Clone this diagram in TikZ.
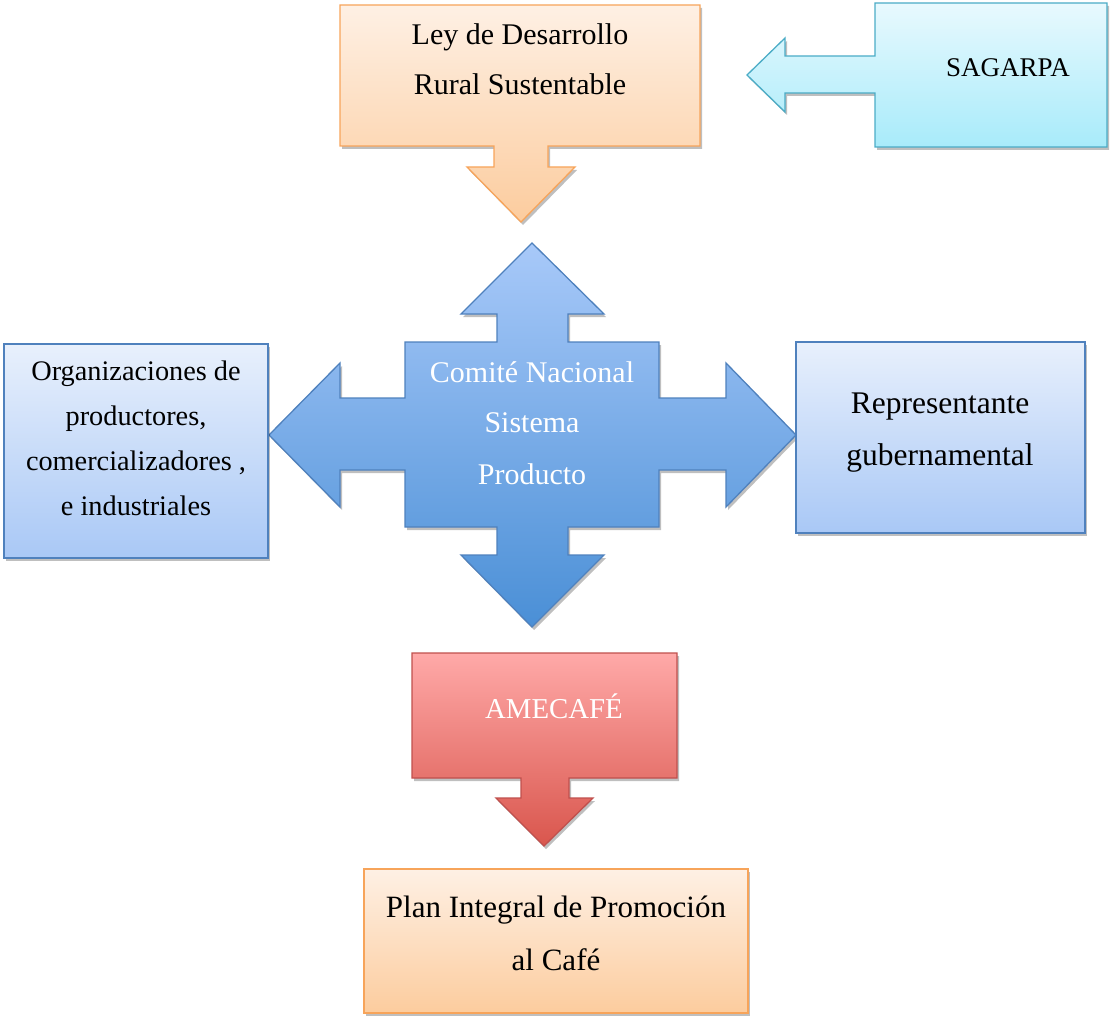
\documentclass[tikz,border=0pt]{standalone}
\usepackage{fontspec}
\setmainfont{Liberation Serif}
\usetikzlibrary{shadows}
\definecolor{orBorder}{HTML}{F7A45A}
\definecolor{orTop}{HTML}{FEF0E4}
\definecolor{orBot}{HTML}{FCCC9E}
\definecolor{aqBorder}{HTML}{4BACC6}
\definecolor{aqTop}{HTML}{E8F9FE}
\definecolor{aqBot}{HTML}{A8EBFA}
\definecolor{blBorder}{HTML}{4F81BD}
\definecolor{blTop}{HTML}{E8F0FC}
\definecolor{blBot}{HTML}{A9C8F6}
\definecolor{ceTop}{HTML}{A8C9F9}
\definecolor{ceBot}{HTML}{4A8FD6}
\definecolor{reBorder}{HTML}{C0504D}
\definecolor{reTop}{HTML}{FFA9A8}
\definecolor{reBot}{HTML}{D9564D}
\begin{document}
\begin{tikzpicture}[x=1pt,y=-1pt,
  shp/.style={line width=1.3pt, line join=miter,
    drop shadow={shadow xshift=2pt,shadow yshift=-3pt,opacity=0.25,fill=black}},
  orangeshp/.style={shp, draw=orBorder, top color=orTop, bottom color=orBot},
  aquashp/.style={shp, draw=aqBorder, top color=aqTop, bottom color=aqBot},
  blueshp/.style={shp, draw=blBorder, top color=blTop, bottom color=blBot},
  centershp/.style={shp, draw=blBorder, top color=ceTop, bottom color=ceBot},
  redshp/.style={shp, draw=reBorder, top color=reTop, bottom color=reBot},
  txt/.style={anchor=base, font=\fontsize{#1}{34}\selectfont, inner sep=0pt},
  txt/.default=28.5,
  wtxt/.style={txt=#1, text=white},
  wtxt/.default=28.5]
\useasboundingbox (0,0) rectangle (1110,1019);

% Ley de Desarrollo Rural Sustentable (callout down)
\draw[orangeshp] (340,5) -- (700,5) -- (700,146) -- (548,146) -- (548,167) -- (575,167)
  -- (521,222) -- (467,167) -- (494,167) -- (494,146) -- (340,146) -- cycle;
\node[txt=30] (ley1) at (520,45) {Ley de Desarrollo};
\node[txt=30] (ley2) at (520,95) {Rural Sustentable};

% SAGARPA (callout left)
\draw[aquashp] (875,3) -- (1107,3) -- (1107,147) -- (875,147) -- (875,93) -- (785,93)
  -- (785,112) -- (747,75) -- (785,38) -- (785,56) -- (875,56) -- cycle;
\node[txt=27] (sag) at (1008,77) {SAGARPA};

% Central quad arrow
\draw[centershp] (405,342) -- (497,342) -- (497,314) -- (461,314) -- (532,243) -- (604,314)
  -- (568,314) -- (568,342) -- (659,342) -- (659,398) -- (726,398) -- (726,363)
  -- (796,435) -- (726,507) -- (726,470) -- (659,470) -- (659,527) -- (568,527)
  -- (568,555) -- (604,555) -- (532,627) -- (461,555) -- (497,555) -- (497,527)
  -- (405,527) -- (405,470) -- (340,470) -- (340,507) -- (269,435) -- (340,363)
  -- (340,398) -- (405,398) -- cycle;
\node[wtxt=30] (com1) at (532,382) {Comité Nacional};
\node[wtxt=30] (com2) at (532,432) {Sistema};
\node[wtxt=30] (com3) at (532,484) {Producto};

% Left box
\draw[blueshp] (4,344) rectangle (268,558);
\node[txt=28.3] (org1) at (136,380) {Organizaciones de};
\node[txt=28.3] (org2) at (136,425) {productores,};
\node[txt=28.3] (org3) at (136,470) {comercializadores ,};
\node[txt=28.3] (org4) at (136,515) {e industriales};

% Right box
\draw[blueshp] (796,342) rectangle (1085,533);
\node[txt=31.5] (rep1) at (940,413) {Representante};
\node[txt=31.5] (rep2) at (940,465) {gubernamental};

% AMECAFE (callout down)
\draw[redshp] (412,653) -- (677,653) -- (677,778) -- (569,778) -- (569,798) -- (593,798)
  -- (544,846) -- (496,798) -- (521,798) -- (521,778) -- (412,778) -- cycle;
\node[wtxt=28.8] (ame) at (554,718) {AMECAFÉ};

% Plan box
\draw[orangeshp] (364,869) rectangle (748,1013);
\node[txt=31] (plan1) at (556,917) {Plan Integral de Promoción};
\node[txt=31] (plan2) at (556,970) {al Café};
\end{tikzpicture}
\end{document}
